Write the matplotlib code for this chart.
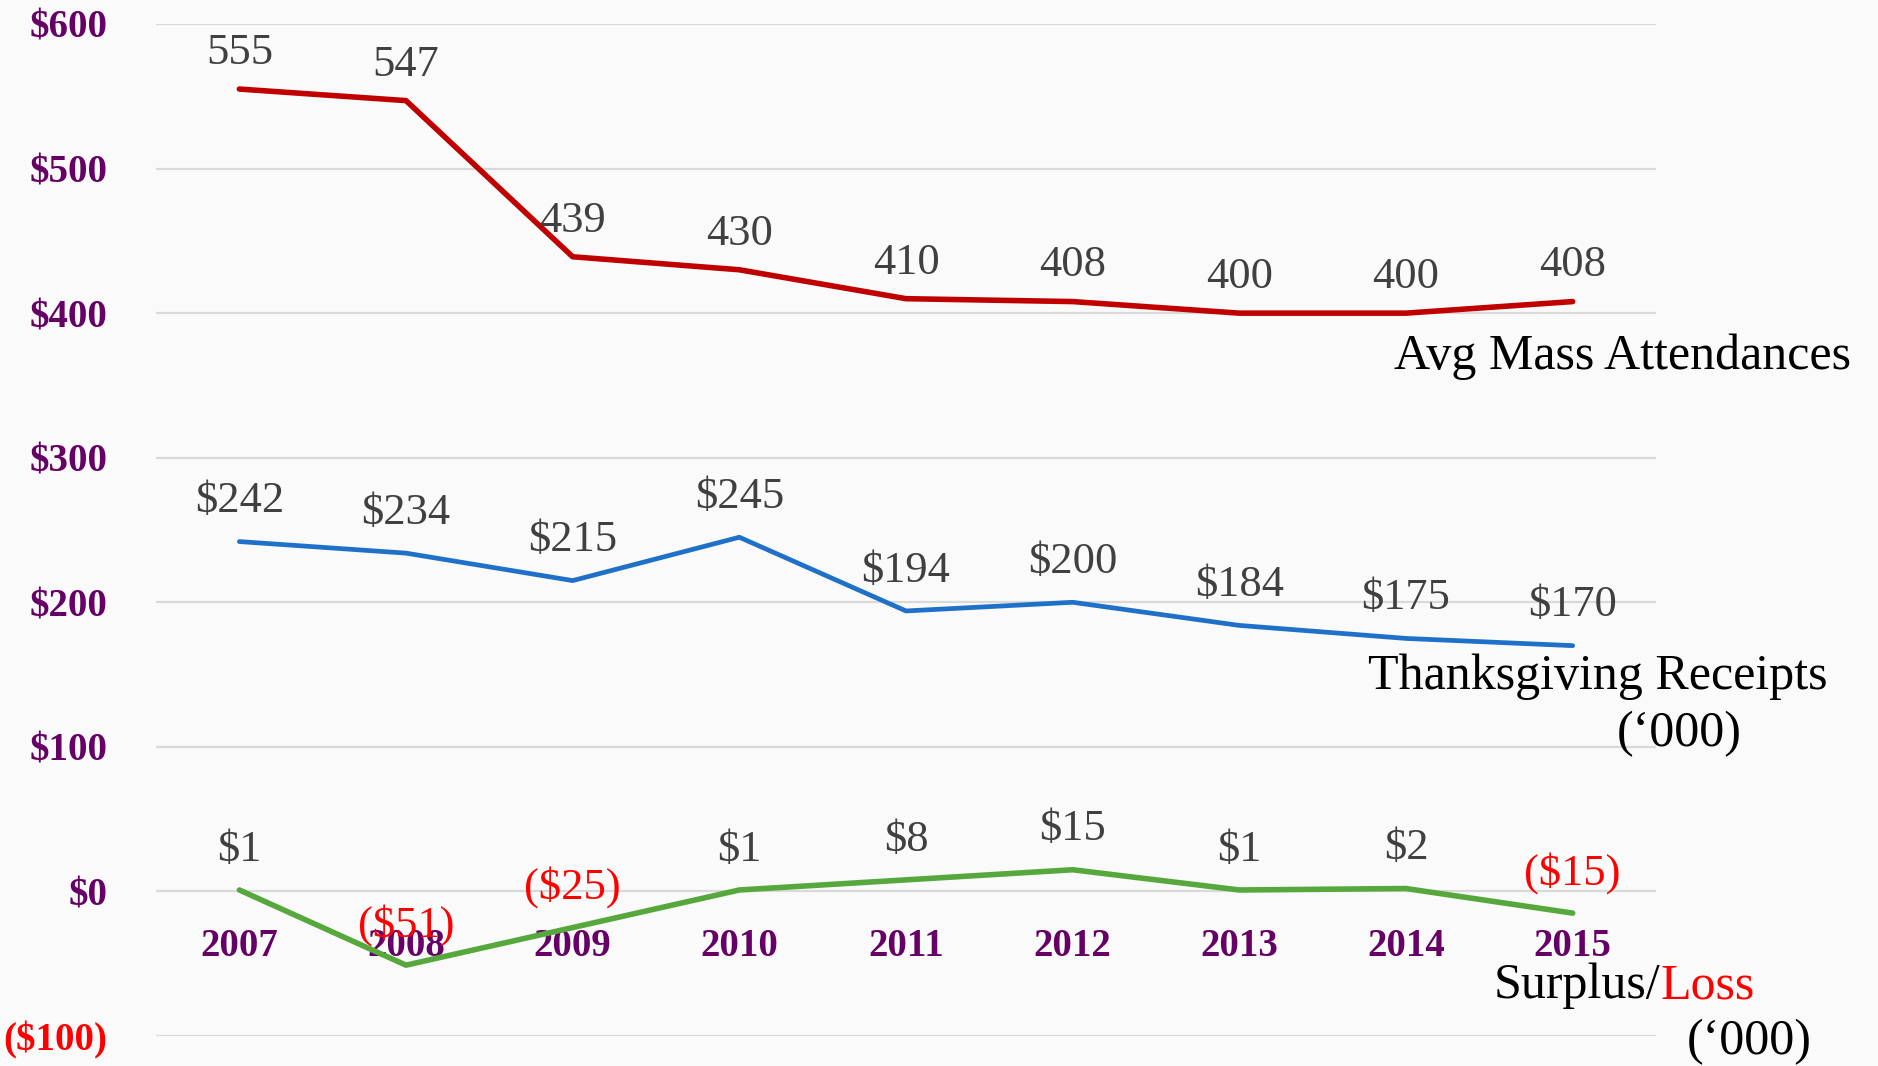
import matplotlib
matplotlib.use("Agg")
import matplotlib.pyplot as plt

years = ["2007", "2008", "2009", "2010", "2011", "2012", "2013", "2014", "2015"]
mass_attendance = [555, 547, 439, 430, 410, 408, 400, 400, 408]
thanksgiving_receipts = [242, 234, 215, 245, 194, 200, 184, 175, 170]
surplus_loss = [1, -51, -25, 1, 8, 15, 1, 2, -15]
ytick_values = [-100, 0, 100, 200, 300, 400, 500, 600]
ytick_labels = ["($100)", "$0", "$100", "$200", "$300", "$400", "$500", "$600"]

SERIF = ["Liberation Serif", "DejaVu Serif"]
BG = "#fafafa"
PURPLE = "#660066"
LABEL_GRAY = "#404040"
RED_TXT = "#ff0000"

W, H = 1878, 1066
fig = plt.figure(figsize=(W / 100, H / 100), dpi=100, facecolor=BG)
ax = fig.add_axes([156 / W, 30 / H, (1656 - 156) / W, (1042 - 30) / H], facecolor=BG)

x = list(range(len(years)))
ax.set_xlim(-0.5, len(years) - 0.5)
ax.set_ylim(-100, 600)

for v in ytick_values:
    ax.axhline(v, color="#d9d9d9", lw=1.6, zorder=0)

ax.plot(x, mass_attendance, color="#c00000", lw=4.0, solid_capstyle="round", zorder=3)
ax.plot(x, thanksgiving_receipts, color="#1f70c8", lw=3.4, solid_capstyle="round", zorder=3)
ax.plot(x, surplus_loss, color="#56a83c", lw=4.0, solid_capstyle="round", zorder=3)

for s in ax.spines.values():
    s.set_visible(False)
ax.set_xticks([])
ax.set_yticks(ytick_values)
ax.set_yticklabels(ytick_labels)
ax.tick_params(axis="y", length=0, pad=35)
for lbl, v in zip(ax.get_yticklabels(), ytick_values):
    lbl.set_fontfamily(SERIF)
    lbl.set_fontweight("bold")
    lbl.set_fontsize(28)
    lbl.set_color(RED_TXT if v < 0 else PURPLE)

# year labels inside the plot, below the zero line
for xi, yr in zip(x, years):
    ax.text(xi, -38, yr, ha="center", va="center", fontsize=28, fontweight="bold",
            color=PURPLE, family=SERIF, zorder=2)

FS = 32

for xi, v in zip(x, mass_attendance):
    ax.annotate(f"{v}", (xi, v), xytext=(0, 26), textcoords="offset points",
                ha="center", va="center", fontsize=FS, color=LABEL_GRAY, family=SERIF, zorder=4)

for xi, v in zip(x, thanksgiving_receipts):
    ax.annotate(f"${v}", (xi, v), xytext=(0, 29), textcoords="offset points",
                ha="center", va="center", fontsize=FS, color=LABEL_GRAY, family=SERIF, zorder=4)

for xi, v in zip(x, surplus_loss):
    txt = f"(${-v})" if v < 0 else f"${v}"
    col = RED_TXT if v < 0 else LABEL_GRAY
    ax.annotate(txt, (xi, v), xytext=(0, 29), textcoords="offset points",
                ha="center", va="center", fontsize=FS, color=col, family=SERIF, zorder=4)

# series labels (figure pixel coords)
def ftext(px, py, s, **kw):
    fig.text(px / W, 1 - py / H, s, family=SERIF, fontsize=36, va="center", **kw)

ftext(1623, 357, "Avg Mass Attendances", ha="center", color="black")
ftext(1598, 677, "Thanksgiving Receipts", ha="center", color="black")
ftext(1679, 734, "(\u2018000)", ha="center", color="black")
ftext(1660, 986, "Surplus/", ha="right", color="black")
ftext(1660, 986, "Loss", ha="left", color=RED_TXT)
ftext(1749, 1042, "(\u2018000)", ha="center", color="black")

fig.savefig("out.png", dpi=100, facecolor=BG)
